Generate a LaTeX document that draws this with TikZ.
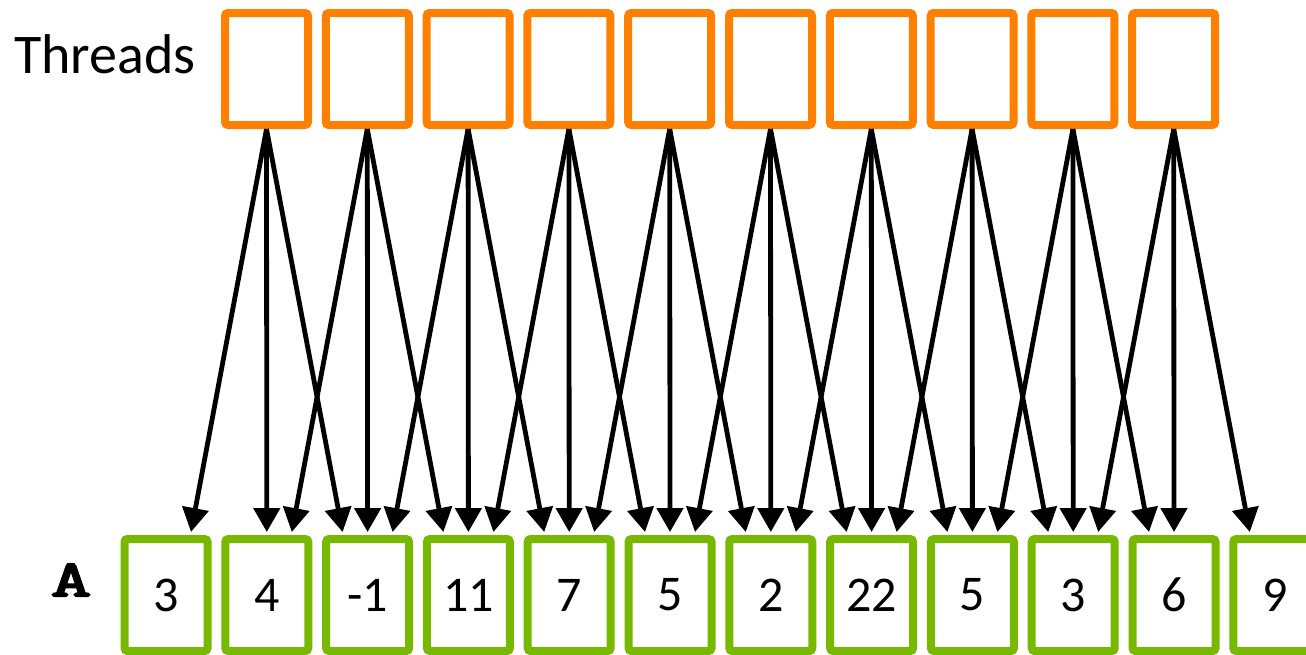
\documentclass[tikz,border=0pt]{standalone}
\usepackage{fontspec}
\setmainfont{Carlito}
\newfontfamily\codefont[FakeBold=3.5]{Latin Modern Mono}
\usetikzlibrary{arrows.meta,shadows}
\definecolor{threadorange}{HTML}{FF8000}
\definecolor{cellgreen}{HTML}{76B900}
\tikzset{
  boxbase/.style={line width=8pt, fill=white, rounded corners=3pt, inner sep=0pt,
    minimum width=83pt, minimum height=112pt,
    drop shadow={opacity=0.18, shadow xshift=1.5pt, shadow yshift=-2pt}},
  threadbox/.style={boxbase, draw=threadorange},
  cellbox/.style={boxbase, draw=cellgreen, font=\fontsize{50}{56}\selectfont},
  readarrow/.style={-{Triangle[length=24pt,width=26pt]}, line width=4.8pt}
}
\begin{document}
\begin{tikzpicture}[x=1pt,y=-1pt]
  \useasboundingbox (0,0) rectangle (1306,654);
  \clip (0,0) rectangle (1306,654);
  % Labels
  \node[font=\fontsize{56}{60}\selectfont, anchor=base east, inner sep=0pt] (threads) at (196,73) {Threads};
  \node[font=\codefont\fontsize{52}{54}\selectfont, inner sep=0pt] (alabel) at (71,580) {\scalebox{1.5}[1]{A}};
  % Thread boxes
  \foreach \i in {0,...,9}
    \node[threadbox] (t\i) at ({266.5+100.8*\i},69) {};
  % Array cells
  \foreach \v [count=\j from 0] in {3,4,-1,11,7,5,2,22,5,3,6,9}
    \node[cellbox] (a\j) at ({166+100.8*\j},595) {\v};
  % Each thread reads three neighbouring cells
  \foreach \i in {0,...,9} {
    \pgfmathtruncatemacro{\k}{\i+1}
    \pgfmathtruncatemacro{\m}{\i+2}
    \draw[readarrow] (t\i.south) -- ([xshift=25pt,yshift=3pt]a\i.north);
    \draw[readarrow] (t\i.south) -- ([yshift=3pt]a\k.north);
    \draw[readarrow] (t\i.south) -- ([xshift=-25pt,yshift=3pt]a\m.north);
  }
\end{tikzpicture}
\end{document}
